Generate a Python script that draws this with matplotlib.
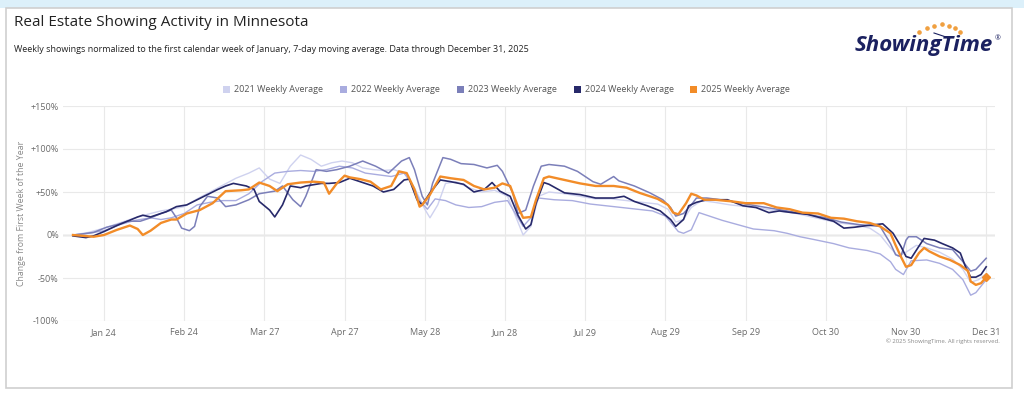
import matplotlib
matplotlib.use('Agg')
import matplotlib.pyplot as plt
from matplotlib.patches import Rectangle
import pandas as pd
import numpy as np

plt.rcParams['font.family'] = ['Open Sans', 'DejaVu Sans']

# ---- data: day of year (2025 calendar) and % change from first week ----
doy_2021 = [12, 18, 24, 30, 36, 42, 46, 50, 55, 60, 65, 70, 75, 80, 84, 88, 92, 96, 100, 104,
            108, 112, 116, 120, 124, 128, 132, 136, 140, 144, 148, 150, 153, 156, 160, 165, 170, 175, 180, 184,
            186, 189, 192, 196, 202, 208, 214, 220, 226, 232, 238, 242, 245, 248, 251, 255, 260, 266, 272, 278,
            284, 290, 296, 302, 308, 314, 320, 324, 328, 331, 334, 338, 342, 347, 352, 356, 359, 362, 365]
val_2021 = [0, 3, 8, 14, 20, 25, 28, 30, 33, 42, 50, 58, 66, 72, 78, 65, 60, 80, 93, 88,
            80, 84, 86, 84, 78, 76, 75, 76, 72, 55, 30, 20, 35, 60, 62, 55, 50, 52, 45, 15,
            0, 10, 45, 50, 48, 45, 42, 42, 40, 38, 36, 30, 15, 18, 32, 40, 38, 35, 33, 31,
            28, 26, 22, 18, 14, 12, 8, 0, -15, -25, -20, -12, -15, -20, -28, -40, -55, -52, -45]

doy_2022 = [12, 18, 24, 30, 36, 42, 46, 50, 55, 60, 65, 70, 75, 80, 85, 90, 95, 100, 105, 110,
            115, 120, 125, 130, 135, 140, 143, 146, 149, 152, 156, 160, 165, 170, 175, 180, 183, 186, 189, 192,
            198, 205, 212, 218, 224, 230, 236, 241, 246, 248, 251, 254, 258, 263, 269, 275, 283, 288, 293, 298,
            306, 312, 319, 324, 328, 330, 333, 336, 342, 347, 352, 356, 359, 361, 365]
val_2022 = [0, 2, 5, 12, 17, 20, 18, 20, 25, 35, 38, 40, 40, 48, 62, 72, 74, 75, 74, 76,
            80, 78, 72, 70, 68, 72, 60, 40, 30, 42, 40, 35, 32, 33, 38, 40, 25, 10, 20, 43,
            41, 40, 36, 34, 32, 30, 28, 22, 4, 2, 6, 26, 22, 17, 12, 7, 5, 2, -2, -5,
            -10, -15, -18, -22, -31, -40, -46, -30, -29, -33, -40, -52, -70, -67, -52]

doy_2023 = [12, 15, 20, 25, 29, 33, 38, 42, 46, 50, 52, 54, 57, 59, 61, 64, 68, 71, 75, 80,
            84, 90, 93, 97, 100, 102, 106, 110, 114, 119, 124, 129, 134, 139, 142, 144, 147, 149, 151, 155,
            158, 162, 167, 172, 176, 178, 182, 184, 187, 190, 193, 196, 202, 207, 213, 216, 221, 223, 229, 235,
            240, 243, 245, 248, 251, 253, 257, 265, 272, 280, 288, 296, 303, 309, 316, 324, 328, 330, 332, 334,
            335, 338, 342, 347, 352, 356, 359, 361, 365]
val_2023 = [0, 1, 3, 9, 12, 16, 16, 20, 25, 29, 20, 8, 5, 10, 33, 45, 43, 33, 35, 41,
            48, 51, 57, 41, 33, 45, 76, 74, 76, 80, 86, 80, 72, 86, 90, 76, 45, 35, 60, 90,
            88, 83, 82, 78, 81, 74, 49, 25, 29, 57, 80, 82, 80, 74, 62, 59, 68, 63, 57, 49,
            41, 32, 22, 25, 35, 43, 43, 40, 36, 32, 28, 24, 20, 15, 12, 10, -10, -23, -25, -6,
            -2, -2, -10, -15, -17, -31, -42, -40, -27]

doy_2024 = [12, 17, 20, 24, 29, 33, 37, 39, 42, 44, 48, 52, 56, 60, 64, 68, 71, 74, 79, 82,
            84, 88, 90, 93, 96, 100, 102, 108, 111, 115, 119, 123, 128, 132, 136, 140, 142, 145, 147, 150,
            154, 158, 163, 167, 171, 174, 177, 181, 184, 187, 189, 191, 194, 196, 202, 208, 214, 221, 225, 229,
            234, 239, 243, 245, 248, 250, 253, 257, 265, 271, 276, 281, 285, 290, 296, 301, 306, 310, 314, 319,
            325, 329, 332, 334, 336, 339, 341, 345, 348, 352, 355, 357, 359, 361, 363, 365]
val_2024 = [-1, -3, -1, 4, 11, 16, 21, 23, 21, 23, 27, 33, 35, 41, 47, 53, 57, 60, 57, 53,
            39, 29, 21, 35, 57, 55, 57, 60, 60, 61, 66, 62, 57, 50, 53, 64, 65, 41, 35, 49,
            64, 62, 59, 50, 53, 61, 51, 45, 23, 7, 12, 37, 61, 59, 49, 47, 43, 43, 45, 39,
            34, 28, 18, 10, 18, 34, 38, 41, 41, 34, 32, 26, 28, 26, 24, 20, 16, 8, 9, 11,
            13, 2, -13, -25, -27, -13, -4, -6, -10, -15, -21, -37, -49, -49, -46, -37]

doy_2025 = [12, 20, 24, 29, 34, 37, 39, 42, 46, 50, 52, 56, 61, 66, 71, 77, 80, 84, 88, 91,
            95, 100, 105, 109, 111, 114, 117, 119, 123, 127, 131, 135, 138, 141, 144, 146, 147, 150, 154, 158,
            163, 167, 171, 175, 178, 181, 184, 186, 189, 191, 194, 196, 202, 208, 214, 221, 226, 231, 238, 242,
            244, 246, 249, 251, 253, 256, 260, 267, 272, 279, 284, 289, 294, 300, 305, 310, 315, 320, 324, 328,
            330, 332, 334, 336, 339, 341, 343, 347, 351, 355, 358, 359, 361, 363, 365]
val_2025 = [0, -2, 0, 6, 11, 7, 0, 5, 14, 18, 18, 25, 29, 37, 51, 52, 53, 61, 57, 51,
            59, 61, 62, 61, 48, 60, 69, 67, 65, 62, 53, 57, 74, 72, 53, 33, 35, 47, 68, 66,
            64, 57, 53, 55, 60, 57, 33, 20, 21, 41, 66, 68, 64, 60, 57, 57, 55, 49, 42, 35,
            26, 24, 37, 48, 46, 41, 41, 39, 37, 37, 32, 30, 26, 25, 20, 19, 16, 14, 10, 2,
            -12, -25, -37, -35, -21, -15, -19, -25, -29, -35, -42, -54, -58, -56, -49]

years = ['2021', '2022', '2023', '2024', '2025']
colors = ['#cfd2ef', '#a9acdf', '#7b7fb9', '#27296a', '#f28c28']
tick_dates = ['2025-01-24', '2025-02-24', '2025-03-27', '2025-04-27', '2025-05-28', '2025-06-28',
              '2025-07-29', '2025-08-29', '2025-09-29', '2025-10-30', '2025-11-30', '2025-12-31']
tick_labels = ['Jan 24', 'Feb 24', 'Mar 27', 'Apr 27', 'May 28', 'Jun 28',
               'Jul 29', 'Aug 29', 'Sep 29', 'Oct 30', 'Nov 30', 'Dec 31']
y_ticks = [-100, -50, 0, 50, 100, 150]
y_labels = ['-100%', '-50%', '0%', '+50%', '+100%', '+150%']


def to_dates(doy):
    return pd.Timestamp('2025-01-01') + pd.to_timedelta(np.asarray(doy, dtype=float) - 1, unit='D')


W, H = 1024, 395
fig = plt.figure(figsize=(W / 100, H / 100), dpi=100)
fig.patch.set_facecolor('white')


def fx(x):
    return x / W


def fy(y):
    return 1 - y / H


# page background strip and card frame (behind the axes)
fig.patches.append(Rectangle((0, fy(8)), 1, 1 - fy(8), transform=fig.transFigure,
                             facecolor='#dcf0fa', edgecolor='none', zorder=-2))
fig.patches.append(Rectangle((fx(6), fy(388)), fx(1012) - fx(6), fy(8) - fy(388),
                             transform=fig.transFigure, facecolor='white',
                             edgecolor='#cfcfcf', lw=1.2, zorder=-1))

ax = fig.add_axes([fx(63), fy(321), fx(995) - fx(63), fy(106) - fy(321)])
ax.set_facecolor('none')
ax.set_zorder(1)

series = [(doy_2021, val_2021), (doy_2022, val_2022), (doy_2023, val_2023),
          (doy_2024, val_2024), (doy_2025, val_2025)]
widths = [1.0, 1.0, 1.1, 1.2, 1.7]
for (d, v), c, lw in zip(series, colors, widths):
    ax.plot(to_dates(d), v, color=c, lw=lw, solid_joinstyle='round', zorder=3)
ax.plot(to_dates(doy_2025[-1:]), val_2025[-1:], marker='D', ms=4.5, color=colors[-1], zorder=4)

ax.set_ylim(-100, 150)
ax.set_yticks(y_ticks)
ax.set_yticklabels(y_labels)
ax.set_xlim(to_dates([8.15, 368.4]))
ax.set_xticks(pd.to_datetime(tick_dates))
ax.set_xticklabels(tick_labels)

ax.grid(True, color='#e9e9e9', lw=0.8, zorder=0)
ax.axhline(0, color='#a5a5a5', lw=0.9, zorder=1)
for s in ax.spines.values():
    s.set_visible(False)
ax.tick_params(length=0, labelsize=6.5, colors='#6a6a6a')
ax.tick_params(axis='y', pad=3)
ax.tick_params(axis='x', pad=5)

# texts
fig.text(fx(14), fy(22), 'Real Estate Showing Activity in Minnesota', fontsize=11,
         color='#222222', va='center', ha='left')
fig.text(fx(14), fy(49), 'Weekly showings normalized to the first calendar week of January, '
         '7-day moving average. Data through December 31, 2025', fontsize=6.45,
         color='#222222', va='center', ha='left')
fig.text(fx(22), fy(213), 'Change from First Week of the Year', rotation=90, fontsize=6.3,
         color='#888888', va='center', ha='center')
fig.text(fx(1000), fy(341), '\u00a9 2025 ShowingTime. All rights reserved.', fontsize=4.3,
         color='#8a8a8a', va='center', ha='right')

# legend
leg_x = [226, 343, 460, 577, 693]
for x, c, yr in zip(leg_x, colors, years):
    fig.patches.append(Rectangle((fx(x - 3.5), fy(92.5)), fx(7), 7 / H,
                                 transform=fig.transFigure, facecolor=c, edgecolor='none'))
    fig.text(fx(x + 8), fy(89), yr + ' Weekly Average', fontsize=6.5, color='#555555',
             va='center', ha='left')

# logo
fig.text(fx(924), fy(46), 'ShowingTime', fontsize=16, fontweight='bold', style='italic',
         color='#1b2160', va='center', ha='center')
fig.text(fx(998), fy(39), '\u00ae', fontsize=5, color='#1b2160', va='center', ha='center')
dots_x = [919, 926.7, 933.5, 941.5, 949, 955, 959.5]
dots_y = [31.7, 28.3, 25.5, 24, 25.5, 28.3, 32.3]
fig.add_artist(plt.Line2D([fx(x) for x in dots_x], [fy(y) for y in dots_y], ls='none',
                          marker='o', ms=2.3, color='#f0a040', transform=fig.transFigure))
fig.add_artist(plt.Line2D([fx(934), fx(946)], [fy(33), fy(37)], color='#1b2160', lw=0.8,
                          transform=fig.transFigure))

fig.savefig('out.png', dpi=100, facecolor=fig.get_facecolor())
